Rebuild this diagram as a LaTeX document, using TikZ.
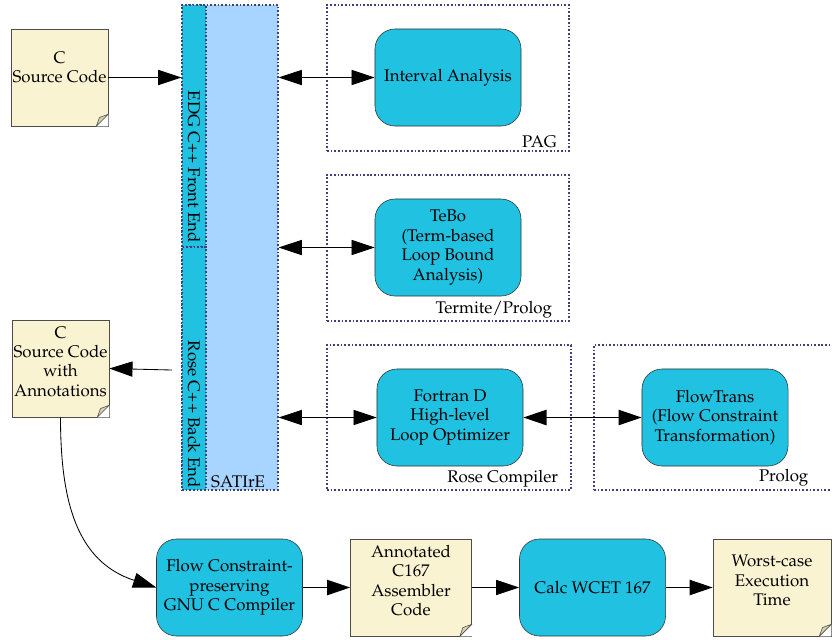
\documentclass[tikz,border=0pt]{standalone}
\usepackage[T1]{fontenc}
\usepackage{mathpazo}
\usepackage{tikz}
\usetikzlibrary{positioning,arrows.meta}
\definecolor{toolcyan}{RGB}{32,193,225}
\definecolor{satblue}{RGB}{168,213,255}
\definecolor{docyellow}{RGB}{250,243,210}
\definecolor{foldtan}{RGB}{216,208,176}
\definecolor{dotblue}{RGB}{64,64,120}
\tikzset{tool node/.style={rectangle,rounded corners=0.5cm,fill=toolcyan,draw=black!80,minimum width=3.65cm,minimum height=2.425cm,inner sep=2pt,align=center,font=\fontsize{12}{13.8}\selectfont},
  doc node/.style={rectangle,fill=docyellow,draw=black!70,minimum width=2.425cm,minimum height=2.425cm,inner sep=1pt,align=center,font=\fontsize{12}{13.8}\selectfont},
  group box/.style={rectangle,draw=dotblue,line width=0.95pt,dash pattern=on 1.2pt off 1.4pt},
  box label/.style={anchor=south east,inner sep=1pt,font=\fontsize{12}{13.8}\selectfont},
  arr/.style={-{Triangle[length=0.58cm,width=0.38cm]},line width=0.6pt},
  darr/.style={{Triangle[length=0.58cm,width=0.38cm]}-{Triangle[length=0.58cm,width=0.38cm]},line width=0.6pt}}

\begin{document}
\begin{tikzpicture}[x=0.025cm,y=-0.025cm]
            \useasboundingbox (0,0) rectangle (832,639);
            \clip (0,0) rectangle (832,639);

            % SATIrE
            \node[group box,fill=satblue,minimum width=2.4cm,minimum height=12.125cm] (satire) at (230,247.5) {};
            \node[group box,fill=toolcyan,minimum width=0.6cm,minimum height=6.05cm] (edgfe) at (194,126) {};
            \node[group box,fill=toolcyan,minimum width=0.6cm,minimum height=6.075cm] (rosebe) at (194,368.5) {};
            \node[box label,rotate=-90,anchor=east] (edgtxt) at ([yshift=0.08cm]edgfe.south) {EDG C++ Front End};
            \node[box label,rotate=-90,anchor=east] (rosetxt) at ([yshift=0.03cm]rosebe.south) {Rose C++ Back End};
            \node[box label] (sattxt) at ([xshift=-0.3cm,yshift=0.02cm]satire.south east) {SATIrE};

            % analysis groups
            \node[group box,minimum width=6.05cm,minimum height=3.65cm] (pag) at (448,78) {};
            \node[group box,minimum width=6.05cm,minimum height=3.65cm] (termite) at (448,248) {};
            \node[group box,minimum width=6.1cm,minimum height=3.625cm] (rosec) at (449,417.5) {};
            \node[group box,minimum width=6.9cm,minimum height=3.625cm] (prolog) at (732,417.5) {};
            \node[box label] (pagtxt) at ([xshift=-0.28cm,yshift=0.05cm]pag.south east) {PAG};
            \node[box label] (termtxt) at ([xshift=-0.4cm,yshift=0.05cm]termite.south east) {Termite/Prolog};
            \node[box label] (rosectxt) at ([xshift=-0.3cm,yshift=0.05cm]rosec.south east) {Rose Compiler};
            \coordinate (prologlab) at (810,490);
            \node[box label] (prologtxt) at ([yshift=0.05cm]prologlab) {Prolog};

            % tools
            \node[tool node] (ia) at (448,77.5) {Interval Analysis};
            \node[tool node] (tebo) at (448,247.5) {TeBo\\(Term-based\\Loop Bound\\Analysis)};
            \node[tool node] (fortran) at (450,417.5) {Fortran D\\High-level\\Loop Optimizer};
            \node[tool node] (flowtrans) at (715,417.5) {FlowTrans\\(Flow Constraint\\Transformation)};
            \node[tool node] (gcc) at (229.5,587.5) {Flow Constraint-\\preserving\\GNU C Compiler};
            \node[tool node] (calc) at (592.5,587.5) {Calc WCET 167};

            % documents
            \node[doc node] (src) at (59.5,77.5) {C\\Source Code\\[0.1em]};
            \node[doc node] (annot) at (60.5,368.5) {C\\Source Code\\with\\Annotations\\[-0.3em]};
            \node[doc node,minimum width=3.025cm] (asm) at (411,587.5) {Annotated\\C167\\Assembler\\Code\\[-0.3em]};
            \node[doc node,minimum width=2.95cm] (wcet) at (772,587.5) {Worst-case\\Execution\\Time\\[-0.3em]};
            \foreach \n in {src,annot,asm,wcet} {
              \fill[white] ([xshift=-0.3cm]\n.south east) -- (\n.south east) -- ([yshift=0.3cm]\n.south east) -- cycle;
              \draw[black!70,fill=foldtan,line join=round] ([xshift=-0.3cm]\n.south east) -- ([xshift=-0.22cm,yshift=0.22cm]\n.south east) -- ([yshift=0.3cm]\n.south east) -- cycle;
            }

            \coordinate (beout) at (172,370);

            \path[draw]
            (src.east) edge[arr] (src.east -| edgfe.west)
            (beout) edge[arr] (annot.east)
            (satire.east |- ia.west) edge[darr] (ia.west)
            (satire.east |- tebo.west) edge[darr] (tebo.west)
            (satire.east |- fortran.west) edge[darr] (fortran.west)
            (fortran.east) edge[darr,line width=1.3pt] (flowtrans.west)
            (annot.south) edge[arr,out=-90,in=162,looseness=1.1] (gcc.west)
            (gcc.east) edge[arr,line width=1.3pt] (asm.west)
            (asm.east) edge[arr] (calc.west)
            (calc.east) edge[arr,line width=1.3pt] (wcet.west);
        \end{tikzpicture}
\end{document}
